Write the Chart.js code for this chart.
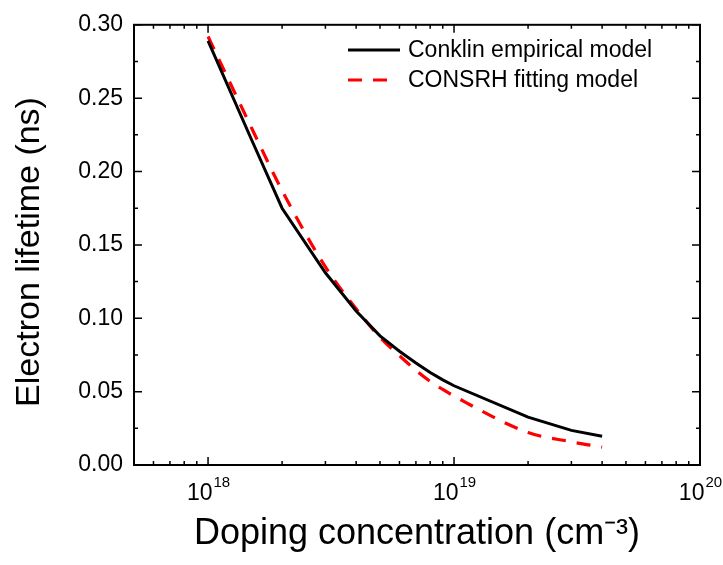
<!DOCTYPE html>
<html>
<head>
<meta charset="utf-8">
<script src="https://cdn.jsdelivr.net/npm/chart.js@4.4.0/dist/chart.umd.min.js"></script>
<style>
  html, body { margin: 0; padding: 0; background: #fff; }
  #wrap { width: 723px; height: 565px; }
</style>
</head>
<body>
<div id="wrap"><canvas id="lifetimeChart" width="723" height="565"></canvas></div>
<script>
// doping concentration (cm^-3)
const dopingConc = [1e18, 1.5e18, 2e18, 3e18, 4e18, 5e18, 6e18, 7e18, 8e18, 9e18, 1e19, 2e19, 3e19, 4e19];
// electron lifetime (ns)
const conklinLifetime = [0.289, 0.222, 0.175, 0.131, 0.105, 0.088, 0.0775, 0.0695, 0.063, 0.058, 0.054, 0.0326, 0.0236, 0.0196];
const consrhLifetime = [0.292, 0.230, 0.187, 0.135, 0.1065, 0.087, 0.0745, 0.0645, 0.057, 0.0515, 0.047, 0.0222, 0.0158, 0.0122];
const seriesNames = ['Conklin empirical model', 'CONSRH fitting model'];
const xDecades = [18, 19, 20];
const yTicks = [0, 0.05, 0.10, 0.15, 0.20, 0.25, 0.30];

const FONT = 'Arial, "Liberation Sans", sans-serif';

// frame, inward ticks, x tick labels with exponents, y title, legend
const framePlugin = {
  id: 'frame',
  afterDraw(chart) {
    const ctx = chart.ctx;
    const a = chart.chartArea;
    const xs = chart.scales.x, ys = chart.scales.y;
    ctx.save();
    ctx.strokeStyle = '#000';
    ctx.lineWidth = 2;
    ctx.strokeRect(a.left, a.top, a.right - a.left, a.bottom - a.top);

    ctx.lineWidth = 1.5;
    ctx.beginPath();
    // x ticks (major at decades, minor 2..9)
    for (let d = 17; d < 20; d++) {
      for (let m = 1; m <= 9; m++) {
        const v = m * Math.pow(10, d);
        if (v < xs.min || v > xs.max) continue;
        const px = xs.getPixelForValue(v);
        const len = m === 1 ? 8 : 4;
        ctx.moveTo(px, a.bottom); ctx.lineTo(px, a.bottom - len);
        ctx.moveTo(px, a.top); ctx.lineTo(px, a.top + len);
      }
    }
    // y ticks
    for (let i = 0; i <= 12; i++) {
      const v = i * 0.025;
      const py = ys.getPixelForValue(v);
      const len = i % 2 === 0 ? 8 : 4;
      ctx.moveTo(a.left, py); ctx.lineTo(a.left + len, py);
      ctx.moveTo(a.right, py); ctx.lineTo(a.right - len, py);
    }
    ctx.stroke();

    // x tick labels 10^n
    ctx.fillStyle = '#000';
    ctx.textBaseline = 'alphabetic';
    ctx.textAlign = 'left';
    xDecades.forEach(function (n) {
      const px = xs.getPixelForValue(Math.pow(10, n));
      ctx.font = '23px ' + FONT;
      const w1 = ctx.measureText('10').width;
      ctx.font = '15px ' + FONT;
      const w2 = ctx.measureText(String(n)).width;
      const x0 = px - (w1 + w2) / 2;
      ctx.font = '23px ' + FONT;
      ctx.fillText('10', x0, 500);
      ctx.font = '15px ' + FONT;
      ctx.fillText(String(n), x0 + w1 + 1, 487);
    });

    // y title
    ctx.save();
    ctx.translate(30, 252);
    ctx.rotate(-Math.PI / 2);
    ctx.textAlign = 'center';
    ctx.textBaseline = 'middle';
    ctx.font = '34px ' + FONT;
    ctx.fillText('Electron lifetime (ns)', 0, 0);
    ctx.restore();

    // legend
    const items = chart.data.datasets;
    const lx = 348, ly = [50, 80], lw = [52, 42];
    items.forEach(function (ds, i) {
      ctx.strokeStyle = ds.borderColor;
      ctx.lineWidth = ds.borderWidth;
      ctx.setLineDash(ds.borderDash || []);
      ctx.beginPath();
      ctx.moveTo(lx, ly[i]); ctx.lineTo(lx + lw[i], ly[i]);
      ctx.stroke();
      ctx.setLineDash([]);
      ctx.fillStyle = '#000';
      ctx.font = '23px ' + FONT;
      ctx.textAlign = 'left';
      ctx.textBaseline = 'middle';
      ctx.fillText(ds.label, 408, ly[i] + 1);
    });
    ctx.restore();
  }
};

const ctx = document.getElementById('lifetimeChart').getContext('2d');
const lifetimeChart = new Chart(ctx, {
  type: 'line',
  data: {
    datasets: [{
      label: seriesNames[0],
      data: dopingConc.map((x, i) => ({ x: x, y: conklinLifetime[i] })),
      borderColor: '#000000',
      borderWidth: 3,
      pointRadius: 0,
      tension: 0,
      fill: false
    }, {
      label: seriesNames[1],
      data: dopingConc.map((x, i) => ({ x: x, y: consrhLifetime[i] })),
      borderColor: '#ff0000',
      borderWidth: 3.2,
      borderDash: [14, 11],
      pointRadius: 0,
      cubicInterpolationMode: 'monotone',
      fill: false
    }]
  },
  options: {
    responsive: false,
    animation: false,
    devicePixelRatio: 1,
    layout: { padding: { top: 20, right: 23, left: 0, bottom: 0 } },
    plugins: {
      legend: { display: false },
      tooltip: { enabled: false }
    },
    scales: {
      x: {
        type: 'logarithmic',
        min: 5e17,
        max: 1e20,
        grid: { display: false, drawTicks: false },
        border: { display: false },
        ticks: { display: false },
        title: {
          display: true,
          text: 'Doping concentration (cm\u207B\u00B3)',
          color: '#000',
          font: { family: FONT, size: 36 },
          padding: { top: 0, bottom: 9 }
        },
        afterFit: function (scale) { scale.height = 100; }
      },
      y: {
        min: 0,
        max: 0.30,
        grid: { display: false, drawTicks: false },
        border: { display: false },
        afterBuildTicks: function (scale) {
          scale.ticks = yTicks.map(v => ({ value: v }));
        },
        ticks: {
          color: '#000',
          padding: 11,
          font: { family: FONT, size: 23 },
          callback: function (v) { return Number(v).toFixed(2); }
        },
        title: { display: false },
        afterFit: function (scale) { scale.width = 134; }
      }
    }
  },
  plugins: [framePlugin]
});
</script>
</body>
</html>
